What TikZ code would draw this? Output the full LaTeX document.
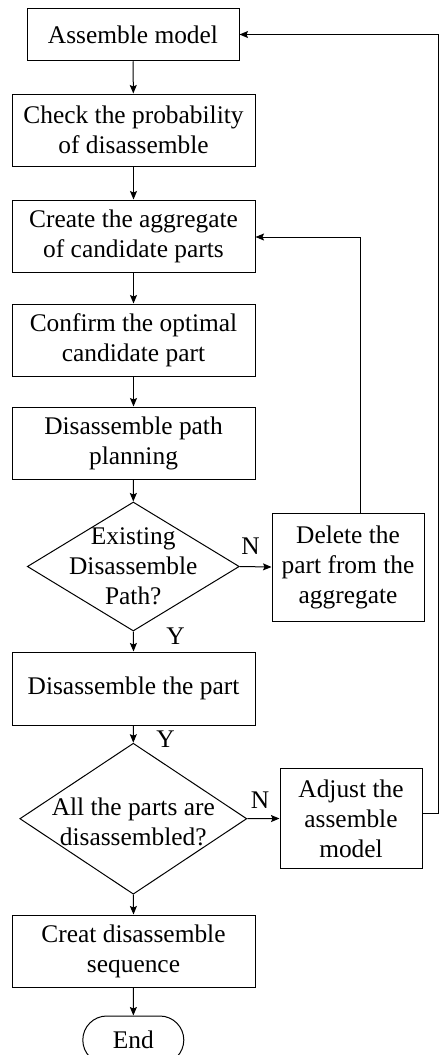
\documentclass[tikz,border=0pt]{standalone}
\usepackage{fontspec}
\setmainfont{Liberation Serif}
\usetikzlibrary{shapes.geometric,shapes.misc,arrows.meta}
\begin{document}
\begin{tikzpicture}[x=1pt,y=-1pt,
  every node/.style={font=\fontsize{25.4}{30}\selectfont},
  box/.style={draw,line width=1pt,rectangle,inner sep=0pt,align=center},
  dia/.style={draw,line width=1pt,diamond,inner sep=0pt},
  term/.style={draw,line width=1pt,rounded rectangle,inner sep=0pt},
  lbl/.style={inner sep=0pt},
  arr/.style={line width=1pt,-{Stealth[length=8.5pt,width=7pt,inset=1.5pt]}},
  ln/.style={line width=1pt}]
\useasboundingbox (0,0) rectangle (439,1055);

\node[box,minimum width=212pt,minimum height=52.5pt] (A) at (133,34.5) {Assemble model};
\node[box,minimum width=243pt,minimum height=72pt] (B) at (133.5,130) {Check the probability\\of disassemble};
\node[box,minimum width=243pt,minimum height=72pt] (C) at (133.5,236) {Create the aggregate\\of candidate parts};
\node[box,minimum width=243pt,minimum height=72pt] (D) at (133.5,340) {Confirm the optimal\\candidate part};
\node[box,minimum width=243pt,minimum height=72pt] (E) at (133.5,443) {Disassemble path\\planning};
\node[dia,minimum width=212pt,minimum height=129pt] (F) at (133.3,566.5) {};
\node[align=center,inner sep=0pt] (Ft) at (133.3,566.5) {Existing\\Disassemble\\Path?};
\node[box,minimum width=152pt,minimum height=108pt] (G) at (348,567) {Delete the\\part from the\\aggregate};
\node[box,minimum width=243pt,minimum height=73pt] (H) at (133.5,688.5) {Disassemble the part};
\node[dia,minimum width=227pt,minimum height=151pt] (I) at (133.3,818.7) {};
\node[align=center,inner sep=0pt] (It) at (133.3,822) {All the parts are\\disassembled?};
\node[box,minimum width=142pt,minimum height=100.5pt] (J) at (351,818.5) {Adjust the\\assemble\\model};
\node[box,minimum width=243pt,minimum height=72pt] (K) at (133.5,951) {Creat disassemble\\sequence};
\node[term,minimum width=101pt,minimum height=48pt] (L) at (133.3,1040) {End};

\node[lbl] (n1) at (250.5,546.6) {N};
\node[lbl] (y1) at (175.5,636) {Y};
\node[lbl] (y2) at (165.5,739.5) {Y};
\node[lbl] (n2) at (260,800) {N};

\draw[arr] (A) -- (B);
\draw[arr] (B) -- (C);
\draw[arr] (C) -- (D);
\draw[arr] (D) -- (E);
\draw[arr] (E) -- (F.north);
\draw[arr] (F.east) -- (G.west);
\draw[arr] (F.south) -- (H.north);
\draw[arr] (H) -- (I.north);
\draw[arr] (I.east) -- (J.west);
\draw[arr] (I.south) -- (K.north);
\draw[arr] (K) -- (L);

\coordinate (gtop) at ([xshift=12.5pt]G.north);
\draw[arr] (gtop) |- ([yshift=-1pt]C.east);
\coordinate (rt) at (438.3,34.5);
\draw[arr] ([yshift=5pt]J.east) -| (rt) -- (A.east);
\end{tikzpicture}
\end{document}
